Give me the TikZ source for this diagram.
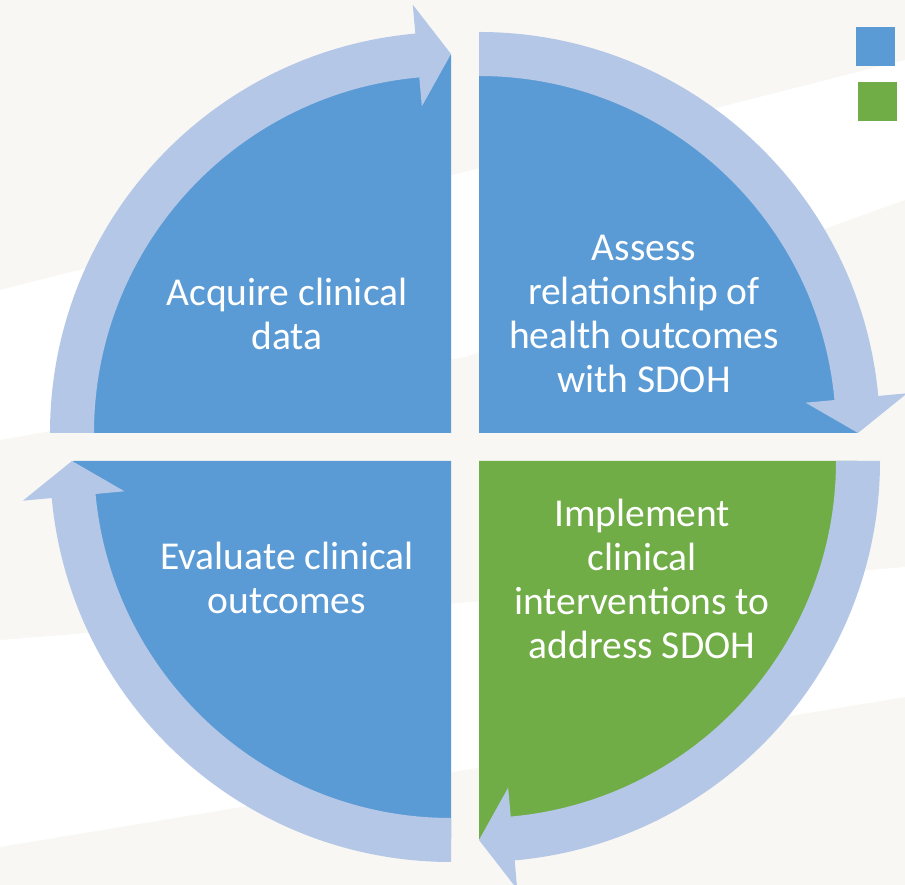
\documentclass[tikz,border=0pt]{standalone}
\usepackage{fontspec}
\setmainfont{Carlito}
\definecolor{bgcream}{HTML}{F8F7F3}
\definecolor{qblue}{HTML}{5B9BD5}
\definecolor{qgreen}{HTML}{70AD47}
\definecolor{ringblue}{HTML}{B4C7E7}
\begin{document}
\begin{tikzpicture}[x=1pt,y=1pt,
  ring/.style={fill=ringblue},
  label/.style={text=white,align=center,font=\fontsize{39.5}{44}\selectfont,inner sep=0pt},
  legendbox/.style={minimum size=39pt,inner sep=0pt}]
\useasboundingbox (0,0) rectangle (905,885);
% background
\fill[bgcream] (0,0) rectangle (905,885);
\fill[white] (0,595) -- (905,825) -- (905,685) -- (465,528) -- (0,445) -- cycle;
\fill[white] (0,245) -- (905,318) -- (905,188) -- (0,38) -- cycle;
% centres of the quadrants
\coordinate (c1) at (451,452);
\coordinate (c2) at (479,452);
\coordinate (c3) at (451,424);
\coordinate (c4) at (479,424);
% quadrants
\fill[qblue] (c1) -- ([shift={(180:378)}]c1) arc[start angle=180,end angle=90,radius=378] -- cycle;
\fill[qblue] (c2) -- ([shift={(90:378)}]c2) arc[start angle=90,end angle=0,radius=378] -- cycle;
\fill[qblue] (c3) -- ([shift={(270:378)}]c3) arc[start angle=270,end angle=180,radius=378] -- cycle;
\fill[qgreen] (c4) -- ([shift={(0:378)}]c4) arc[start angle=0,end angle=-90,radius=378] -- cycle;
% ring arrows
\fill[ring] ([shift={(180:401)}]c1) arc[start angle=180,end angle=95.1,radius=401]
  -- ([shift={(95.1:430)}]c1) -- ([shift={(90:379)}]c1) -- ([shift={(95.1:328)}]c1)
  -- ([shift={(95.1:357)}]c1) arc[start angle=95.1,end angle=180,radius=357] -- cycle;
\fill[ring] ([shift={(90:401)}]c2) arc[start angle=90,end angle=5.3,radius=401]
  -- ([shift={(5.3:430)}]c2) -- ([shift={(0:379)}]c2) -- ([shift={(5.3:328)}]c2)
  -- ([shift={(5.3:357)}]c2) arc[start angle=5.3,end angle=90,radius=357] -- cycle;
\fill[ring] ([shift={(270:401)}]c3) arc[start angle=270,end angle=185.3,radius=401]
  -- ([shift={(185.3:430)}]c3) -- ([shift={(180:379)}]c3) -- ([shift={(185.3:328)}]c3)
  -- ([shift={(185.3:357)}]c3) arc[start angle=185.3,end angle=270,radius=357] -- cycle;
\fill[ring] ([shift={(0:401)}]c4) arc[start angle=0,end angle=-84.9,radius=401]
  -- ([shift={(-84.9:430)}]c4) -- ([shift={(-90:379)}]c4) -- ([shift={(-84.9:328)}]c4)
  -- ([shift={(-84.9:357)}]c4) arc[start angle=-84.9,end angle=0,radius=357] -- cycle;
% texts
\node[label] (acquire) at (287,571) {Acquire clinical\\data};
\node[label] (assess) at (644,571) {Assess\\relationship of\\health outcomes\\with SDOH};
\node[label] (evaluate) at (287,307) {Evaluate clinical\\outcomes};
\node[label] (implement) at (642,306) {Implement\\clinical\\interventions to\\address SDOH};
% legend squares
\node[legendbox,fill=qblue] (lgblue) at (875.5,838.5) {};
\node[legendbox,fill=qgreen] (lggreen) at (877.5,783.5) {};
\end{tikzpicture}
\end{document}
